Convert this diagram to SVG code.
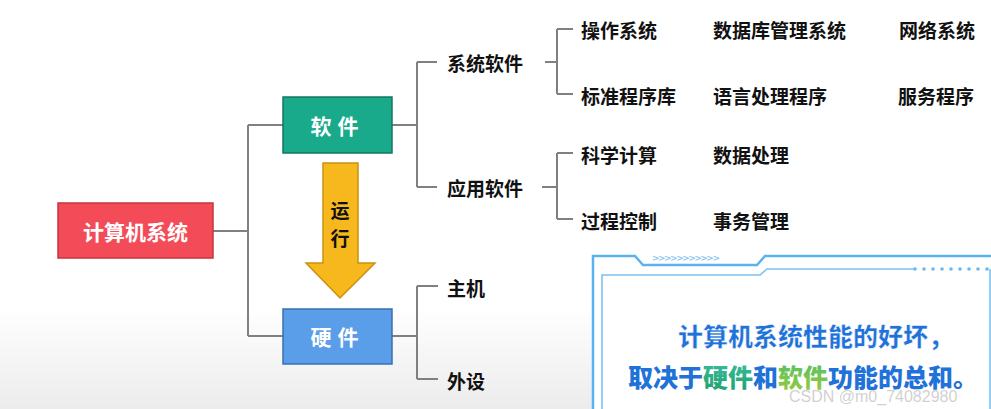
<svg xmlns="http://www.w3.org/2000/svg" width="991" height="409" viewBox="0 0 991 409">
<defs>
<linearGradient id="bg" x1="0" y1="0" x2="0" y2="1">
<stop offset="0" stop-color="#ffffff"/>
<stop offset="0.75" stop-color="#ffffff"/>
<stop offset="1" stop-color="#ececec"/>
</linearGradient>
<linearGradient id="gHard" x1="0" y1="0" x2="0" y2="1">
<stop offset="0" stop-color="#3cc0a0"/>
<stop offset="1" stop-color="#1f9e6e"/>
</linearGradient>
<linearGradient id="gSoft" x1="0" y1="0" x2="0" y2="1">
<stop offset="0" stop-color="#4fbf6a"/>
<stop offset="1" stop-color="#9acb3a"/>
</linearGradient>
<style>
.cn{font-family:"Noto Sans CJK SC","Noto Sans",sans-serif;font-weight:bold;}
.lbl{font-size:19px;fill:#111;dominant-baseline:central;}
.box{stroke-width:1.5;}
.wt{fill:#fff;font-size:21px;text-anchor:middle;dominant-baseline:central;}
.ln{fill:none;stroke:#808080;stroke-width:2;}
.fr{fill:none;stroke:#5ab2ee;stroke-width:2.5;}
.fr2{fill:none;stroke:#7cc2f0;stroke-width:1.6;}
.big{font-size:25px;font-weight:900;fill:#1f72d8;}
</style>
</defs>
<rect width="991" height="409" fill="url(#bg)"/>

<g id="connectors">
<path class="ln" d="M213 231H248M248 125V336M248 125H283M248 336H283"/>
<path class="ln" d="M392 125H417M417 62V187M417 62H437M417 187H437"/>
<path class="ln" d="M545 62H557M557 29V94M557 29H573M557 94H573"/>
<path class="ln" d="M542 187H557M557 153V219M557 153H573M557 219H573"/>
<path class="ln" d="M392 336H417M417 286V379M417 286H438M417 379H438"/>
</g>

<g id="node-computer">
<rect class="box" x="58" y="203" width="155" height="55" fill="#f34b57" stroke="#c9343f"/>
<text class="cn wt" x="135.5" y="231">计算机系统</text>
</g>
<g id="node-software">
<rect class="box" x="283" y="97" width="109" height="56" fill="#18aa8b" stroke="#12785f"/>
<text class="cn wt" x="337.5" y="125" letter-spacing="6">软件</text>
</g>
<g id="node-hardware">
<rect class="box" x="283" y="309" width="109" height="55" fill="#5a9de8" stroke="#3a6fb0"/>
<text class="cn wt" x="337.5" y="336" letter-spacing="6">硬件</text>
</g>
<g id="arrow-run">
<path d="M323 163H358V263H375L340 298L306 263H323Z" fill="#f6b81c" stroke="#c9920f" stroke-width="1.5"/>
<text class="cn" x="340" y="209" font-size="19" fill="#111" text-anchor="middle" dominant-baseline="central">运</text>
<text class="cn" x="340" y="237" font-size="19" fill="#111" text-anchor="middle" dominant-baseline="central">行</text>
</g>

<g id="node-syssoft"><text class="cn lbl" x="447" y="62" font-size="20">系统软件</text></g>
<g id="node-appsoft"><text class="cn lbl" x="447" y="187" font-size="20">应用软件</text></g>
<g id="node-host"><text class="cn lbl" x="447" y="287" font-size="20">主机</text></g>
<g id="node-periph"><text class="cn lbl" x="447" y="380" font-size="20">外设</text></g>

<g id="node-os"><text class="cn lbl" x="581" y="29">操作系统</text></g>
<g id="node-dbms"><text class="cn lbl" x="713" y="29">数据库管理系统</text></g>
<g id="node-net"><text class="cn lbl" x="899" y="29">网络系统</text></g>
<g id="node-stdlib"><text class="cn lbl" x="581" y="95">标准程序库</text></g>
<g id="node-lang"><text class="cn lbl" x="713" y="95">语言处理程序</text></g>
<g id="node-svc"><text class="cn lbl" x="898" y="95">服务程序</text></g>
<g id="node-sci"><text class="cn lbl" x="581" y="154">科学计算</text></g>
<g id="node-data"><text class="cn lbl" x="713" y="154">数据处理</text></g>
<g id="node-proc"><text class="cn lbl" x="581" y="220">过程控制</text></g>
<g id="node-biz"><text class="cn lbl" x="713" y="220">事务管理</text></g>

<g id="note">
<rect x="593" y="257" width="398" height="152" fill="#ffffff"/>
<path class="fr" d="M593 409V256H635L643 265H757L765 256H991"/>
<path class="fr2" d="M602 409V275H760L767 269H915"/>
<path class="fr2" d="M990 269V409"/>
<g fill="#6ab8ee">
<circle cx="915" cy="269" r="1.8"/><circle cx="924" cy="269" r="1.8"/><circle cx="933" cy="269" r="1.8"/><circle cx="942" cy="269" r="1.8"/><circle cx="951" cy="269" r="1.8"/><circle cx="960" cy="269" r="1.8"/><circle cx="969" cy="269" r="1.8"/><circle cx="978" cy="269" r="1.8"/><circle cx="987" cy="269" r="1.8"/>
</g>
<text x="652" y="258" font-family="DejaVu Sans, sans-serif" font-size="9" font-weight="bold" fill="#8cc6f0" dominant-baseline="central" letter-spacing="-1.5">&gt;&gt;&gt;&gt;&gt;&gt;&gt;&gt;&gt;&gt;&gt;</text>
<g class="cn">
<text class="big" x="678" y="346" fill="#1f72d8" stroke="#ffffff" stroke-width="0.5">计算机系统性能的好坏，</text>
<text class="big" x="628" y="387">取决于<tspan fill="url(#gHard)">硬件</tspan>和<tspan fill="url(#gSoft)">软件</tspan>功能的总和。</text>
</g>
<text x="789" y="396" font-family="Liberation Sans, Arial, sans-serif" font-size="16" fill="#c8c8c8" fill-opacity="0.85" dominant-baseline="central">CSDN @m0_74082980</text>
</g>
</svg>
